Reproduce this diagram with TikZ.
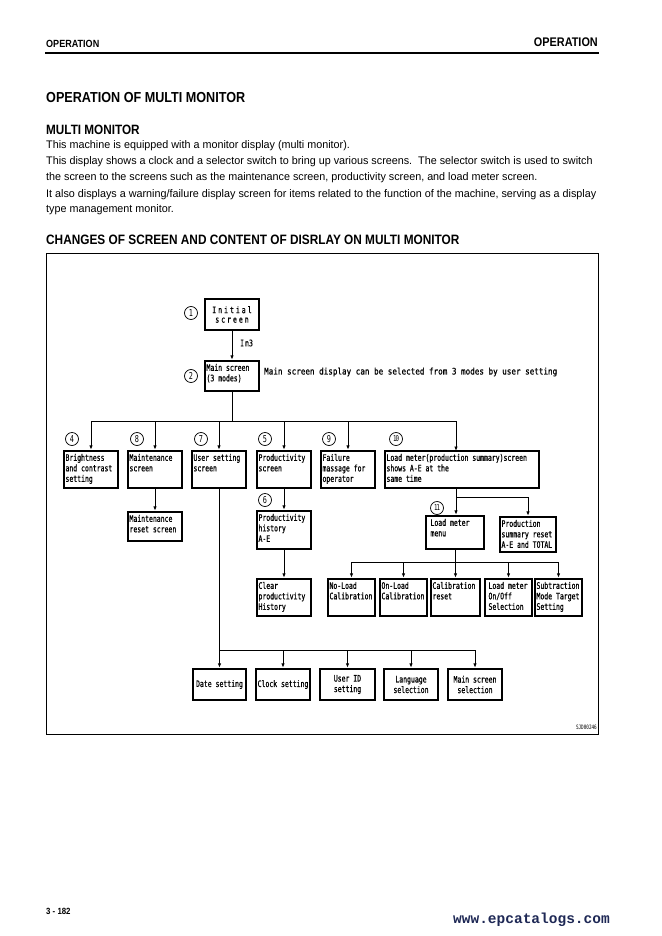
\documentclass[tikz,border=0pt]{standalone}
\usepackage{fontspec}
\setmainfont{Liberation Sans}[FakeStretch=0.87]
\newfontfamily\bodyfont{Liberation Sans}[FakeStretch=0.98]
\newfontfamily\cad{DejaVu Sans Mono}[FakeStretch=0.72, FakeBold=0.6]
\newfontfamily\cadw{DejaVu Sans Mono}[FakeStretch=0.845, FakeBold=0.6]
\newfontfamily\cadl{DejaVu Sans Mono}[FakeStretch=0.72]
\newfontfamily\webfont{Liberation Mono}
\usetikzlibrary{arrows.meta}
\definecolor{webblue}{RGB}{30,40,85}
\newcommand\tbox[6]{\node[bx, minimum width={#4-#2}, minimum height={#5-#3}] (#1) at ({(#2+#4)/2},{(#3+#5)/2}) {\parbox[c][\dimexpr#5pt-#3pt-6pt\relax][t]{\dimexpr#4pt-#2pt-3pt\relax}{\raggedright #6}};}
\newcommand\cbox[6]{\node[bx, align=center, minimum width={#4-#2}, minimum height={#5-#3}] (#1) at ({(#2+#4)/2},{(#3+#5)/2}) {#6};}
\begin{document}
\begin{tikzpicture}[x=1pt,y=-1pt,
  bx/.style={draw, line width=2.4pt, inner sep=0pt, font=\cad\fontsize{9}{10.5}\selectfont},
  ln/.style={line width=0.9pt},
  arr/.style={line width=0.9pt, -{Latex[length=4.5pt,width=3.5pt]}},
  num/.style={circle, draw, line width=0.7pt, minimum size=13pt, inner sep=0pt, font=\cadl\fontsize{9.5}{9.5}\selectfont},
  txt/.style={anchor=base west, inner sep=0pt},
  cadtxt/.style={inner sep=0pt, font=\cad\fontsize{9}{10.5}\selectfont}]
\useasboundingbox (0,0) rectangle (661,936);
\fill[white] (0,0) rectangle (661,936);

% header
\node[txt, font=\bfseries\fontsize{10.4}{12}\selectfont] (hl) at (46,48) {OPERATION};
\node[anchor=base east, inner sep=0pt, font=\bfseries\fontsize{12.5}{14}\selectfont] (hr) at (598,47) {OPERATION};
\draw[line width=2pt] (45,53) -- (599,53);

% titles and body
\node[txt, font=\bfseries\fontsize{14.5}{16}\selectfont] (t1) at (46,103) {OPERATION OF MULTI MONITOR};
\node[txt, font=\bfseries\fontsize{13.5}{15}\selectfont] (t2) at (46,135) {MULTI MONITOR};
\begin{scope}[every node/.append style={font=\bodyfont\fontsize{11}{13}\selectfont}]
\node[txt] (p1) at (46,149) {This machine is equipped with a monitor display (multi monitor).};
\node[txt] (p2) at (46,165) {This display shows a clock and a selector switch to bring up various screens.\ \ The selector switch is used to switch};
\node[txt] (p3) at (46,181) {the screen to the screens such as the maintenance screen, productivity screen, and load meter screen.};
\node[txt] (p4) at (46,197) {It also displays a warning/failure display screen for items related to the function of the machine, serving as a display};
\node[txt] (p5) at (46,212) {type management monitor.};
\end{scope}
\node[txt, font=\bfseries\fontsize{13.6}{15}\selectfont] (t3) at (46,244) {CHANGES OF SCREEN AND CONTENT OF DISRLAY ON MULTI MONITOR};

% frame
\draw[line width=1pt] (46,253) rectangle (598,734);

% boxes
\cbox{b1}{205}{299}{259}{330}{I\kern2pt n\kern2pt i\kern2pt t\kern2pt i\kern2pt a\kern2pt l\\[-1pt]s\kern2pt c\kern2pt r\kern2pt e\kern2pt e\kern2pt n}
\tbox{b2}{205}{361}{259}{391}{Main screen\\(3 modes)}
\tbox{b4}{64}{451}{118}{488}{Brightness\\and contrast\\setting}
\tbox{b8}{128}{451}{182}{488}{Maintenance\\screen}
\tbox{b7}{192}{451}{246}{488}{User setting\\screen}
\tbox{b5}{257}{451}{311}{488}{Productivity\\screen}
\tbox{b9}{321}{451}{375}{488}{Failure\\massage for\\operator}
\tbox{b10}{385}{451}{539}{488}{Load meter(production summary)screen\\shows A-E at the\\same time}
\tbox{b8r}{128}{512}{182}{541}{Maintenance\\reset screen}
\tbox{b6}{257}{511}{311}{549}{Productivity\\history\\A-E}
\tbox{clr}{257}{579}{311}{616}{Clear\\productivity\\History}
\tbox{lm}{426}{516}{484}{549}{\hspace{3pt}Load meter\\\hspace{3pt}menu}
\tbox{ps}{500}{517}{556}{552}{Production\\summary reset\\A-E and TOTAL}
\tbox{c1}{328}{579}{375}{616}{No-Load\\Calibration}
\tbox{c2}{380}{579}{427}{616}{On-Load\\Calibration}
\tbox{c3}{431}{579}{480}{616}{Calibration\\reset}
\tbox{c4}{485}{579}{532}{616}{\hspace{2pt}Load meter\\\hspace{2pt}On/Off\\\hspace{2pt}Selection}
\tbox{c5}{535}{579}{582}{616}{Subtraction\\Mode Target\\Setting}
\cbox{d1}{193}{669}{246}{700}{Date setting}
\cbox{d2}{256}{669}{310}{700}{Clock setting}
\cbox{d3}{320}{669}{375}{700}{User ID\\setting}
\cbox{d4}{384}{669}{438}{700}{Language\\selection}
\cbox{d5}{448}{669}{502}{700}{Main screen\\selection}

% circled numbers
\node[num] (n1) at (191,313) {1};
\node[num] (n2) at (191,376) {2};
\node[num] (n4) at (72,439) {4};
\node[num] (n8) at (137,439) {8};
\node[num] (n7) at (201,439) {7};
\node[num] (n5) at (265,439) {5};
\node[num] (n9) at (329,439) {9};
\node[num, font=\cadl\fontsize{8}{8}\selectfont] (n10) at (396,439) {1\kern-1pt0};
\node[num] (n6) at (265,500) {6};
\node[num, font=\cadl\fontsize{8}{8}\selectfont] (n11) at (437,508) {1\kern-1pt1};

% labels
\node[cadtxt, anchor=west] (in3) at (240,343) {I\kern1pt n3};
\node[cadtxt, anchor=west, font=\cadw\fontsize{9}{10.5}\selectfont] (side) at (264,372) {Main screen display can be selected from 3 modes by user setting};
\node[cadtxt, anchor=east, font=\cadl\fontsize{6}{7}\selectfont] (sjd) at (597,727) {SJD00246};

% connectors
\draw[arr] (b1) -- (b2);
\coordinate (bus1) at (232,421);
\coordinate (t10) at (456,451);
\draw[ln] (b2.south) -- (bus1);
\draw[ln] (bus1 -| b4.north) -- (bus1 -| t10);
\foreach \n in {b4,b8,b7,b5,b9} \draw[arr] (bus1 -| \n.north) -- (\n.north);
\draw[arr] (bus1 -| t10) -- (t10);
\draw[arr] (b8) -- (b8r);
\draw[arr] (b5) -- (b6);
\draw[arr] (b6) -- (clr);
% load meter branch
\coordinate (s10) at (456,488);
\coordinate (bus2) at (456,497);
\draw[ln] (s10) -- (bus2) -- (bus2 -| ps.north);
\draw[arr] (bus2) -- (bus2 |- lm.north);
\draw[arr] (bus2 -| ps.north) -- (ps.north);
\coordinate (bus4) at (455,562);
\draw[ln] (lm.south) -- (bus4);
\draw[ln] (bus4 -| c1.north) -- (bus4 -| c5.north);
\foreach \n in {c1,c2,c3,c4,c5} \draw[arr] (bus4 -| \n.north) -- (\n.north);
% user setting branch
\coordinate (bus3) at (219,650);
\draw[ln] (b7.south) -- (bus3);
\draw[ln] (bus3) -- (bus3 -| d5.north);
\foreach \n in {d1,d2,d3,d4,d5} \draw[arr] (bus3 -| \n.north) -- (\n.north);

% footer
\node[txt, font=\bfseries\fontsize{9}{10}\selectfont] (pg) at (46,914) {3 - 182};
\node[anchor=base east, inner sep=0pt, text=webblue, font=\webfont\bfseries\fontsize{14.5}{16}\selectfont] (web) at (610,923) {www.epcatalogs.com};
\end{tikzpicture}
\end{document}
